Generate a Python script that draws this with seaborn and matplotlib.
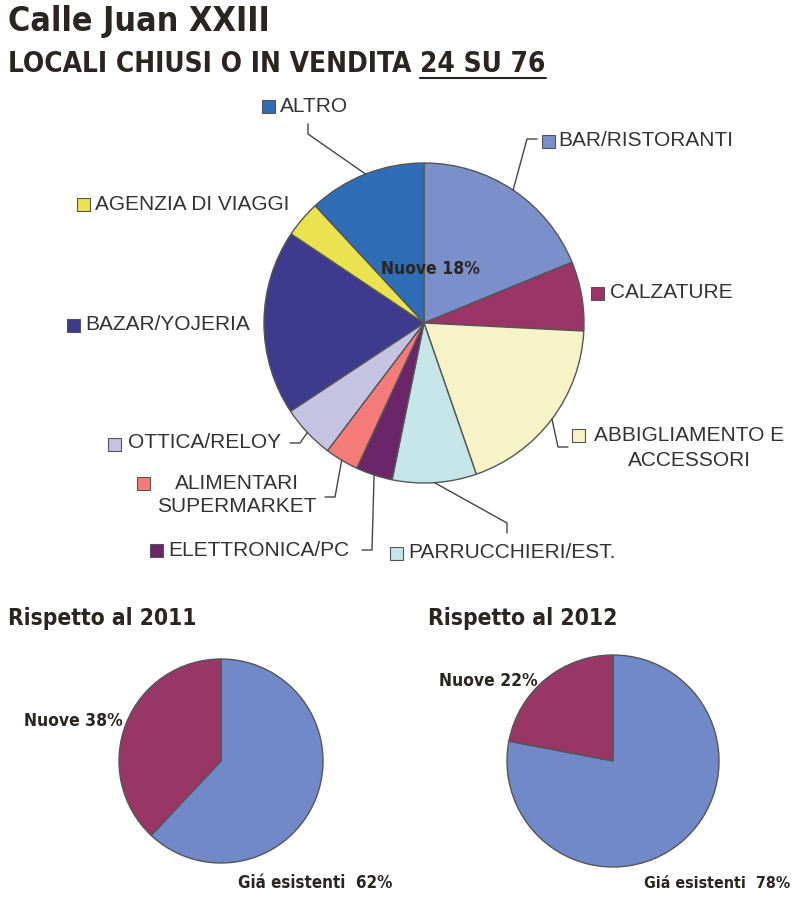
import os
import numpy as np
import matplotlib
matplotlib.use('Agg')
import matplotlib.pyplot as plt
import seaborn as sns
from matplotlib import font_manager
from matplotlib.font_manager import FontProperties
from matplotlib.patches import Rectangle

# Data
categories = ['BAR/RISTORANTI', 'CALZATURE', 'ABBIGLIAMENTO E\nACCESSORI', 'PARRUCCHIERI/EST.',
              'ELETTRONICA/PC', 'ALIMENTARI\nSUPERMARKET', 'OTTICA/RELOY', 'BAZAR/YOJERIA',
              'AGENZIA DI VIAGGI', 'ALTRO']
shares = [18.8, 7.0, 18.9, 8.5, 3.7, 3.4, 5.4, 18.7, 3.7, 11.9]
colors = ['#7b8fcb', '#9b3467', '#f6f3c6', '#c5e6e9', '#6b2569',
          '#f47b78', '#c4c4e2', '#3e3b8e', '#ebe24f', '#2f6db7']

groups = ['Giá esistenti', 'Nuove']
shares_2011 = [62, 38]
shares_2012 = [78, 22]
group_colors = ['#7189c9', '#983666']

new_share_main = 18

sns.set_theme(style='white')
plt.rcParams['font.family'] = ['Liberation Sans', 'DejaVu Sans']

# look for a narrow bold face for the headline text (newspaper style)
files = {os.path.basename(f.fname).lower(): f.fname for f in font_manager.fontManager.ttflist}
head_path = None
for want in ['liberationsansnarrow-bold.ttf', 'notosans-extracondensedbold.ttf',
             'notosans-condensedbold.ttf', 'dejavusanscondensed-bold.ttf']:
    if want in files:
        head_path = files[want]
        break


def head_fp(size):
    if head_path:
        return FontProperties(fname=head_path, size=size)
    return FontProperties(family='DejaVu Sans', weight='bold', size=size)


W, H = 800, 915
fig = plt.figure(figsize=(W / 100, H / 100), dpi=100)
fig.patch.set_facecolor('white')

INK = '#2b2520'
LBL = '#333333'
EDGE = '#555555'


def pie_axes(cx, cy, r, pad=4):
    rr = r + pad
    ax = fig.add_axes([(cx - rr) / W, 1 - (cy + rr) / H, 2 * rr / W, 2 * rr / H])
    ax.set_axis_off()
    return ax, rr / r


# main pie
CX, CY, R = 424, 323, 160
ax, lim = pie_axes(CX, CY, R)
wedges, _ = ax.pie(shares, colors=colors, startangle=90, counterclock=False,
                   wedgeprops=dict(edgecolor=EDGE, linewidth=1))
ax.set_xlim(-lim, lim)
ax.set_ylim(-lim, lim)

# small pies
pies_small = [(221, 761, 102, shares_2011), (613, 761, 106, shares_2012)]
for cx, cy, r, vals in pies_small:
    a, l = pie_axes(cx, cy, r)
    a.pie(vals, colors=group_colors, startangle=90, counterclock=False,
          wedgeprops=dict(edgecolor=EDGE, linewidth=1))
    a.set_xlim(-l, l)
    a.set_ylim(-l, l)

# overlay in pixel coordinates (y from top)
ov = fig.add_axes([0, 0, 1, 1])
ov.set_xlim(0, W)
ov.set_ylim(H, 0)
ov.set_axis_off()
ov.patch.set_alpha(0)

# label layout: square x, square y, text x, text y, alignment, line spacing, leader elbow
layout = [
    (542, 141, 558, 141, 'left', 1.1, [(527, 139), (537, 139)]),
    (591, 293, 610, 293, 'left', 1.1, None),
    (572, 435, 689, 448, 'center', 1.38, [(558, 447), (568, 447)]),
    (390, 553, 408, 553, 'left', 1.1, [(507, 523), (507, 533)]),
    (150, 550, 168, 550, 'left', 1.1, [(372, 550), (362, 550)]),
    (137, 483, 237, 495, 'center', 1.28, [(335, 497), (325, 497)]),
    (108, 444, 128, 443, 'left', 1.1, [(300, 443), (290, 443)]),
    (67, 325, 85, 325, 'left', 1.1, None),
    (77, 204, 95, 204, 'left', 1.1, None),
    (262, 106, 280, 106, 'left', 1.1, [(308, 134), (308, 124)]),
]

for lab, col, w, (sx, sy, tx, ty, ha, ls, elbow) in zip(categories, colors, wedges, layout):
    ov.text(tx, ty, lab, ha=ha, va='center', ma='center', fontsize=15,
            color=LBL, linespacing=ls)
    ov.add_patch(Rectangle((sx, sy - 6.5), 13, 13, facecolor=col,
                           edgecolor=EDGE, linewidth=0.8))
    if elbow:
        mid = np.deg2rad((w.theta1 + w.theta2) / 2)
        rim = (CX + R * np.cos(mid), CY - R * np.sin(mid))
        pts = [rim] + elbow
        ov.plot([p[0] for p in pts], [p[1] for p in pts], color='#444444', lw=1)

fig.canvas.draw()
rend = fig.canvas.get_renderer()


def fit_size(s, target, base=20.0):
    # font size that makes string s about target pixels wide
    t = ov.text(0, 0, s, fontproperties=head_fp(base))
    wpx = t.get_window_extent(rend).width
    t.remove()
    return base * target / wpx


def head_text(x, y, s, target, ha='left', boost=1.0):
    return ov.text(x, y, s, fontproperties=head_fp(fit_size(s, target) * boost),
                   color=INK, ha=ha, va='baseline')


# headline
head_text(8, 31, 'Calle Juan XXIII', 247, boost=1.06)
part1, part2 = 'LOCALI CHIUSI O IN VENDITA ', '24 SU 76'
sz2 = fit_size(part1 + part2, 507) * 1.06
t1 = ov.text(8, 72, part1, fontproperties=head_fp(sz2), color=INK, va='baseline')
bb = t1.get_window_extent(rend)
t2 = ov.text(bb.x1, 72, part2, fontproperties=head_fp(sz2), color=INK, va='baseline')
bb2 = t2.get_window_extent(rend)
ov.plot([bb2.x0, bb2.x1], [78, 78], color=INK, lw=1.5)

head_text(430, 274, f'Nuove {new_share_main}%', 86, ha='center', boost=1.15)

head_text(8, 625, 'Rispetto al 2011', 180, boost=1.05)
head_text(428, 625, 'Rispetto al 2012', 180, boost=1.05)

head_text(123, 726, f'{groups[1]} {shares_2011[1]}%', 88, ha='right', boost=1.12)
head_text(238, 888, f'{groups[0]}  {shares_2011[0]}%', 138, boost=1.12)
head_text(538, 686, f'{groups[1]} {shares_2012[1]}%', 88, ha='right', boost=1.12)
head_text(790, 888, f'{groups[0]}  {shares_2012[0]}%', 130, ha='right', boost=1.12)

fig.savefig('out.png', dpi=100)
